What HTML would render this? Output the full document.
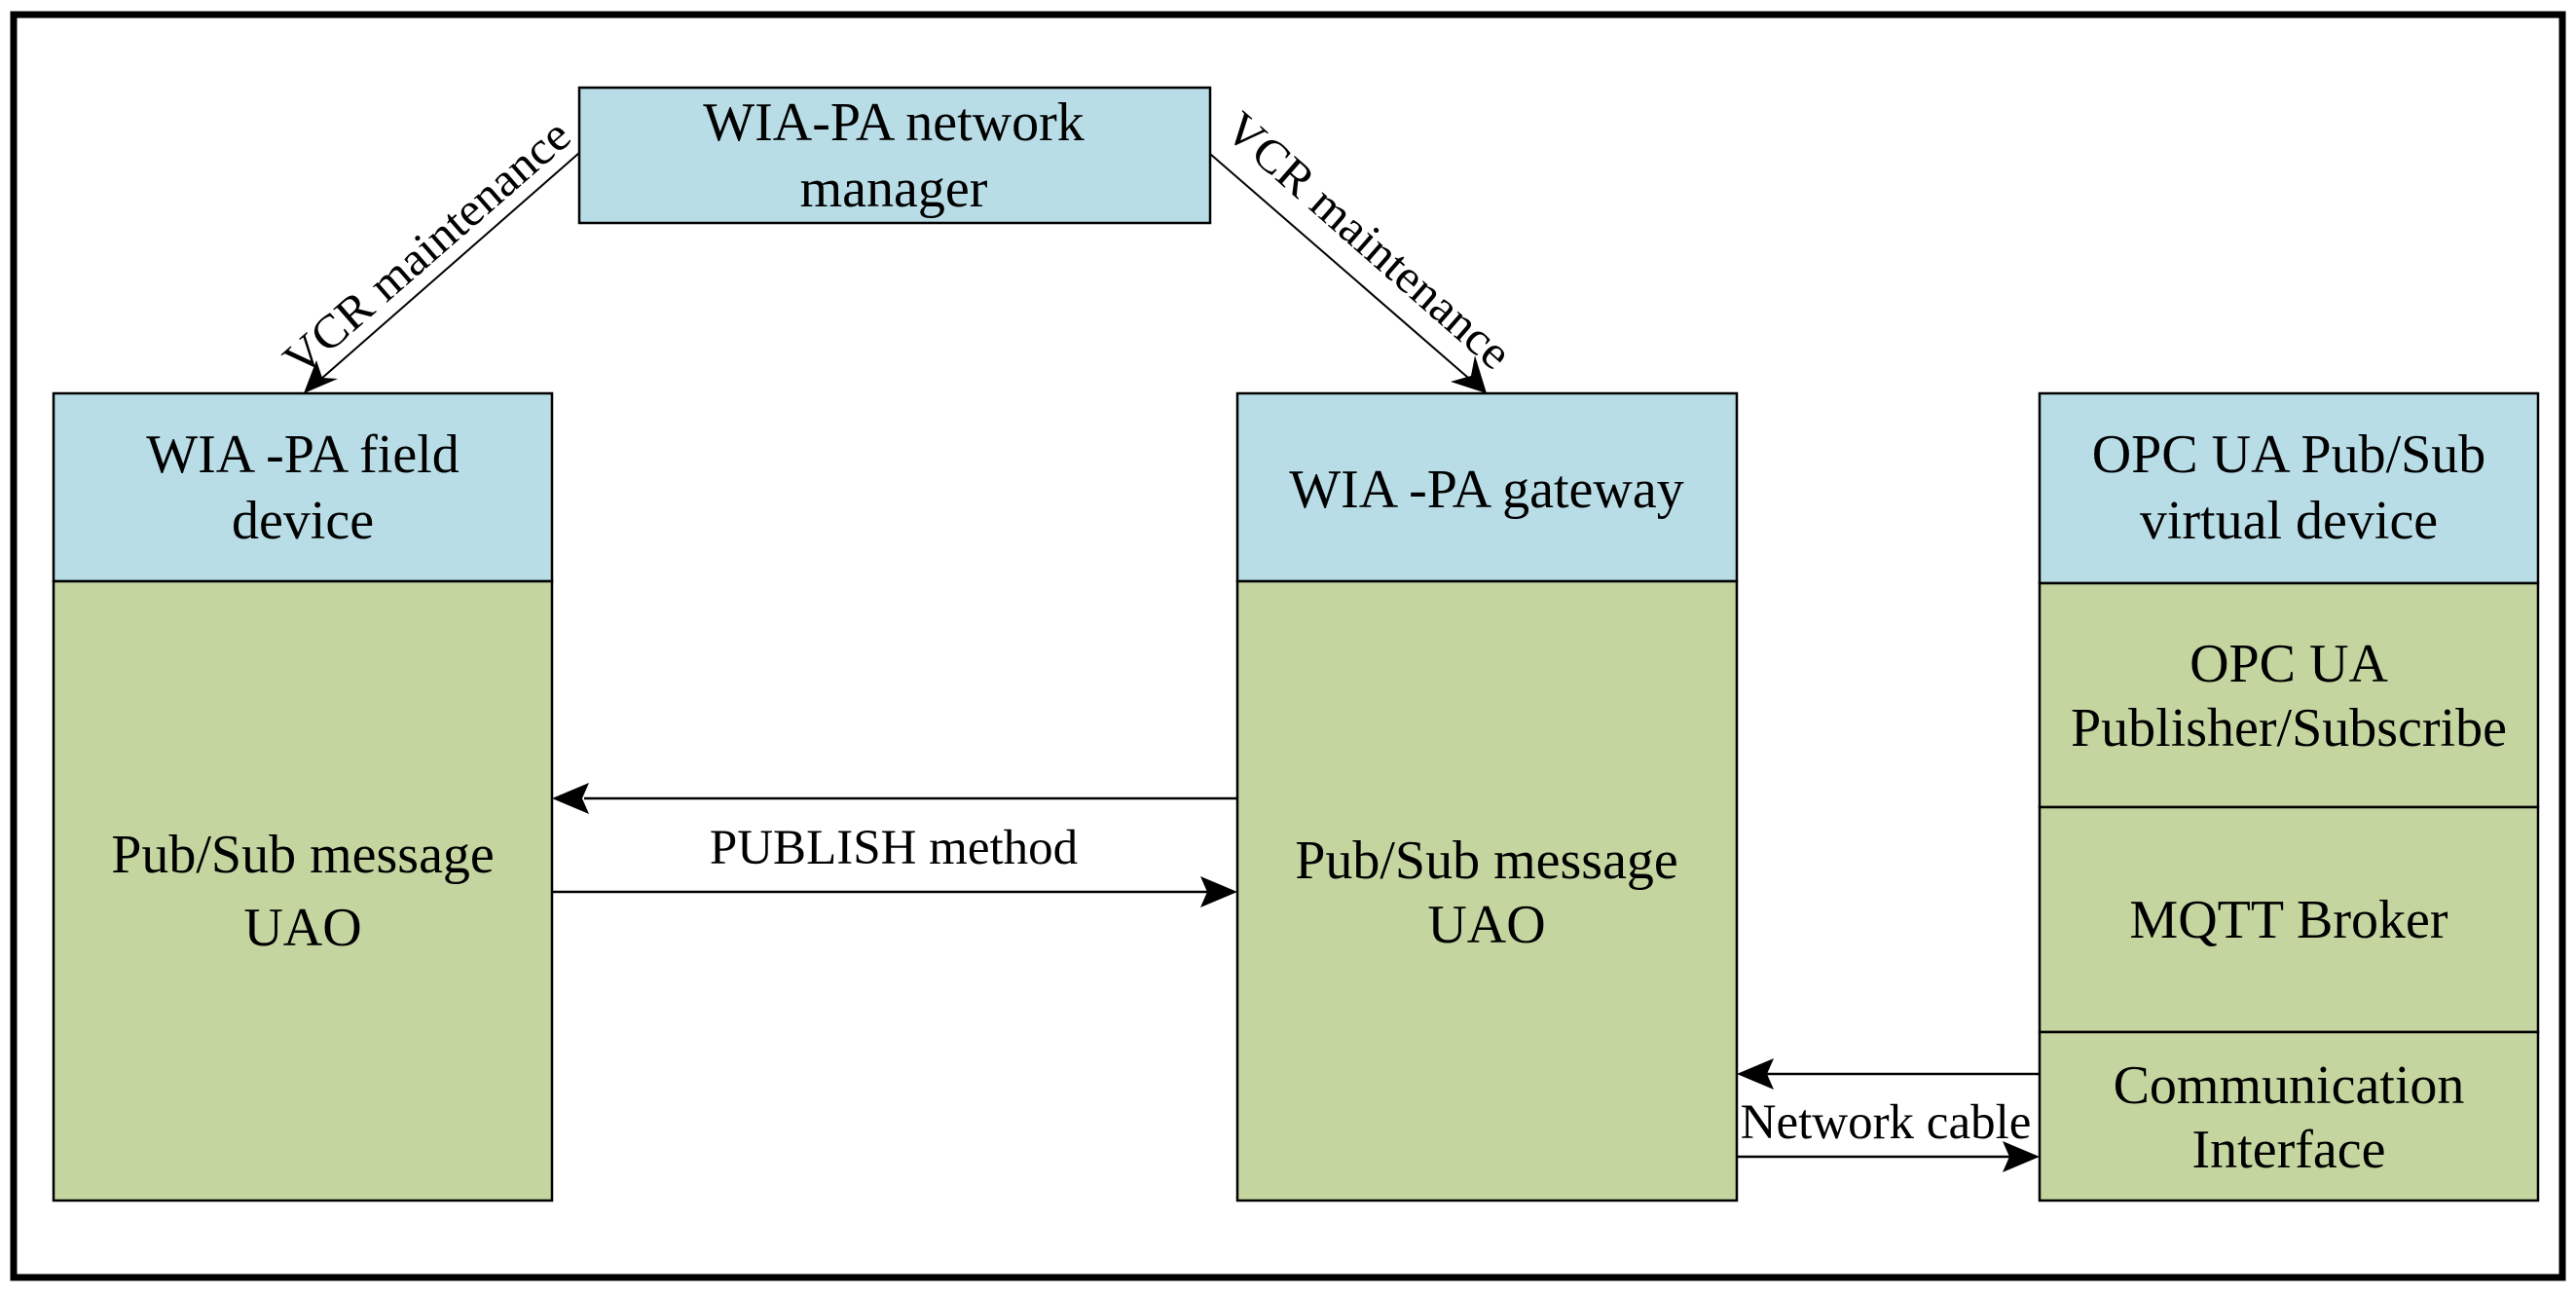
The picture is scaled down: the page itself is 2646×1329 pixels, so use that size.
<!DOCTYPE html>
<html><head><meta charset="utf-8"><style>html,body{margin:0;padding:0;background:#fff}svg{display:block}</style></head>
<body>
<svg width="2646" height="1329" viewBox="0 0 2646 1329" xmlns="http://www.w3.org/2000/svg" font-family="'Liberation Serif', serif" font-size="56" fill="#000">
<rect x="14" y="15" width="2618" height="1297" fill="#fff" stroke="#000" stroke-width="7"/>
<!-- network manager -->
<rect x="595" y="90" width="648" height="139" fill="#b8dde6" stroke="#000" stroke-width="2.5"/>
<g text-anchor="middle" dominant-baseline="central">
<text x="918" y="126">WIA-PA network</text>
<text x="918" y="194">manager</text>
</g>
<!-- field device -->
<rect x="55" y="404" width="512" height="193" fill="#b8dde6" stroke="#000" stroke-width="2.5"/>
<rect x="55" y="597" width="512" height="636" fill="#c4d5a0" stroke="#000" stroke-width="2.5"/>
<!-- gateway -->
<rect x="1271" y="404" width="513" height="193" fill="#b8dde6" stroke="#000" stroke-width="2.5"/>
<rect x="1271" y="597" width="513" height="636" fill="#c4d5a0" stroke="#000" stroke-width="2.5"/>
<!-- OPC -->
<rect x="2095" y="404" width="512" height="195" fill="#b8dde6" stroke="#000" stroke-width="2.5"/>
<rect x="2095" y="599" width="512" height="230" fill="#c4d5a0" stroke="#000" stroke-width="2.5"/>
<rect x="2095" y="829" width="512" height="231" fill="#c4d5a0" stroke="#000" stroke-width="2.5"/>
<rect x="2095" y="1060" width="512" height="173" fill="#c4d5a0" stroke="#000" stroke-width="2.5"/>
<g text-anchor="middle" dominant-baseline="central">
<text x="311" y="467">WIA -PA field</text>
<text x="311" y="535">device</text>
<text x="311" y="878">Pub/Sub message</text>
<text x="311" y="953">UAO</text>
<text x="1527" y="503">WIA -PA gateway</text>
<text x="1527" y="884">Pub/Sub message</text>
<text x="1527" y="950">UAO</text>
<text x="2351" y="467">OPC UA Pub/Sub</text>
<text x="2351" y="535">virtual device</text>
<text x="2351" y="682">OPC UA</text>
<text x="2351" y="748">Publisher/Subscribe</text>
<text x="2351" y="945">MQTT Broker</text>
<text x="2351" y="1115">Communication</text>
<text x="2351" y="1181">Interface</text>
<text x="918" y="871" font-size="51">PUBLISH method</text>
<text x="1937" y="1153" font-size="51">Network cable</text>
</g>
<!-- publish arrows -->
<line x1="1271" y1="820" x2="600" y2="820" stroke="#000" stroke-width="2.5"/>
<polygon points="567,820 605,804 598,820 605,836"/>
<line x1="567" y1="916" x2="1240" y2="916" stroke="#000" stroke-width="2.5"/>
<polygon points="1271,916 1233,900 1240,916 1233,932"/>
<!-- network cable arrows -->
<line x1="2095" y1="1103" x2="1815" y2="1103" stroke="#000" stroke-width="2.5"/>
<polygon points="1784,1103 1822,1087 1815,1103 1822,1119"/>
<line x1="1784" y1="1188" x2="2064" y2="1188" stroke="#000" stroke-width="2.5"/>
<polygon points="2095,1188 2057,1172 2064,1188 2057,1204"/>
<!-- VCR arrows -->
<line x1="595" y1="157" x2="322" y2="396" stroke="#000" stroke-width="2"/>
<polygon points="312,404 325,370 331,388 347,389"/>
<line x1="1243" y1="158" x2="1515" y2="394" stroke="#000" stroke-width="2"/>
<polygon points="1527,404 1490,392 1511,386 1515,365"/>
<g transform="translate(312,392) rotate(-41.1)"><text x="0" y="-5" font-size="48" textLength="372" lengthAdjust="spacingAndGlyphs">VCR maintenance</text></g>
<g transform="translate(1252,140) rotate(41.3)"><text x="0" y="-5" font-size="48" textLength="372" lengthAdjust="spacingAndGlyphs">VCR maintenance</text></g>
</svg>
</body></html>
